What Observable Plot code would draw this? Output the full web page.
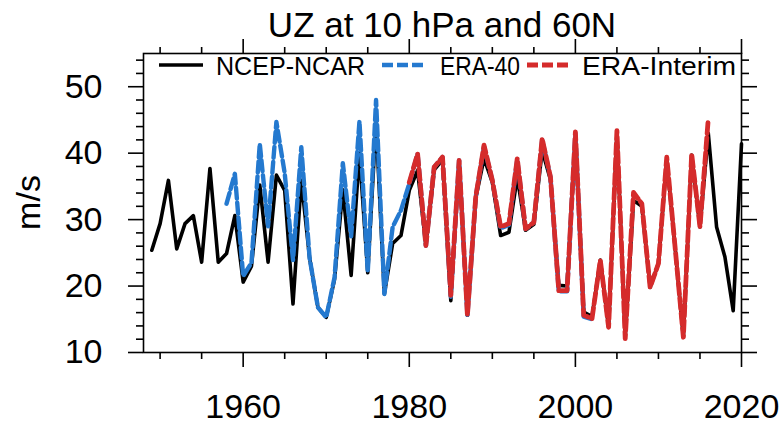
<!DOCTYPE html>
<html>
<head>
<meta charset="utf-8">
<script src="https://cdn.jsdelivr.net/npm/d3@7"></script>
<script src="https://cdn.jsdelivr.net/npm/@observablehq/plot@0.6"></script>
<style>
  html, body { margin: 0; padding: 0; background: #fff; }
  #chart { width: 784px; height: 429px; }
</style>
</head>
<body>
<div id="chart"></div>
<script>
// ---- data ----
const titleText = "UZ at 10 hPa and 60N";
const yLabel = "m/s";
const seriesNames = ["NCEP-NCAR", "ERA-40", "ERA-Interim"];
const seriesColors = ["#000000", "#2479cf", "#d52b2b"];

const ncepStart = 1949;
const ncepValues = [
  25.4, 29.4, 35.9, 25.6, 29.4, 30.6, 23.6, 37.7, 23.6, 24.9, // 1949-1958
  30.6, 20.6, 23.0, 35.2, 23.6, 36.7, 34.4, 17.3, 35.9, 24.2, // 1959-1968
  16.8, 15.3, 21.0, 34.5, 21.6, 40.0, 22.0, 44.5, 18.8, 26.4, // 1969-1978
  27.6, 34.4, 37.4, 26.1, 37.5, 39.0, 17.8, 38.6, 15.6, 33.2, // 1979-1988
  39.2, 35.6, 27.6, 28.1, 36.4, 28.4, 29.3, 40.4, 36.0, 20.1, // 1989-1998
  20.0, 42.5, 16.1, 15.4, 23.9, 13.8, 43.0, 12.3, 32.9, 32.0, // 1999-2008
  19.8, 23.4, 39.0, 25.9, 12.3, 39.7, 28.9, 43.0, 28.9, 24.4, // 2009-2018
  16.3, 41.4                                                  // 2019-2020
];

const era40Start = 1958;
const era40Values = [
  32.4, 36.9, 21.5, 23.5, 41.4, 29.0, 44.7, 37.0, 23.9, 40.9, // 1958-1967
  24.2, 16.8, 15.3, 21.3, 38.5, 27.5, 44.8, 22.1, 48.0, 18.8, // 1968-1977
  28.9, 31.4, 35.4, 39.9, 26.1, 37.9, 39.4, 18.4, 38.9, 15.6, // 1978-1987
  33.4, 41.0, 35.9, 28.7, 29.2, 39.0, 28.6, 29.6, 42.0, 36.4, // 1988-1997
  19.2, 19.2, 43.0, 15.4, 15.0                                // 1998-2002
];

const eraiStart = 1980;
const eraiValues = [
  35.6, 39.9, 26.1, 37.9, 39.4, 18.6, 38.9, 15.6, 33.4, 41.2, // 1980-1989
  35.9, 28.9, 29.4, 39.2, 28.6, 29.6, 42.2, 36.4, 19.3, 19.3, // 1990-1999
  43.2, 15.6, 15.1, 23.9, 13.8, 43.4, 12.1, 34.1, 32.4, 19.8, // 2000-2009
  23.4, 39.4, 25.9, 12.3, 39.9, 28.9, 45.2                    // 2010-2016
];

const xMajorTicks = [1960, 1980, 2000, 2020];
const xMinorTicks = [1950, 1955, 1965, 1970, 1975, 1985, 1990, 1995, 2005, 2010, 2015];
const yMajorTicks = [10, 20, 30, 40, 50];
const yMinorTicks = [12, 14, 16, 18, 22, 24, 26, 28, 32, 34, 36, 38, 42, 44, 46, 48, 52, 54];

// ---- build tables ----
const toRows = (start, vals) => vals.map((v, i) => ({year: start + i, value: v}));
const ncep = toRows(ncepStart, ncepValues);
const era40 = toRows(era40Start, era40Values);
const erai = toRows(eraiStart, eraiValues);

const FONT = "'Liberation Sans', Arial, Helvetica, sans-serif";
const blank = () => "";
const tk = {stroke: "#000", strokeWidth: 1.6, label: null};
const widths = [3.6, 4.4, 4.8];

const plot = Plot.plot({
  width: 784,
  height: 429,
  marginLeft: 143,
  marginRight: 43,
  marginTop: 53,
  marginBottom: 77,
  style: {fontFamily: FONT, background: "#fff", color: "#000", overflow: "visible"},
  x: {domain: [1948, 2020], label: null},
  y: {domain: [10, 55], label: null},
  marks: [
    Plot.line(ncep, {x: "year", y: "value", stroke: seriesColors[0], strokeWidth: widths[0], strokeLinejoin: "round"}),
    Plot.line(era40, {x: "year", y: "value", stroke: seriesColors[1], strokeWidth: widths[1], strokeDasharray: "11,4", strokeLinejoin: "round"}),
    Plot.line(erai, {x: "year", y: "value", stroke: seriesColors[2], strokeWidth: widths[2], strokeDasharray: "11,4", strokeLinejoin: "round"}),
    // bottom axis
    Plot.axisX({...tk, anchor: "bottom", ticks: xMajorTicks, tickSize: 15, tickPadding: 26, fontSize: 34, tickFormat: d => String(d)}),
    Plot.axisX({...tk, anchor: "bottom", ticks: xMinorTicks, tickSize: 7, tickFormat: blank}),
    // top axis
    Plot.axisX({...tk, anchor: "top", ticks: xMajorTicks, tickSize: 15, tickFormat: blank}),
    Plot.axisX({...tk, anchor: "top", ticks: xMinorTicks, tickSize: 7, tickFormat: blank}),
    // left axis
    Plot.axisY({...tk, anchor: "left", ticks: yMajorTicks, tickSize: 15, tickPadding: 26, fontSize: 34, tickFormat: d => String(d)}),
    Plot.axisY({...tk, anchor: "left", ticks: yMinorTicks, tickSize: 7, tickFormat: blank}),
    // right axis
    Plot.axisY({...tk, anchor: "right", ticks: yMajorTicks, tickSize: 15, tickFormat: blank}),
    Plot.axisY({...tk, anchor: "right", ticks: yMinorTicks, tickSize: 7, tickFormat: blank}),
    Plot.frame({stroke: "#000", strokeWidth: 1.6})
  ]
});

document.getElementById("chart").appendChild(plot);

// ---- title, y label and legend (layout only) ----
const svgSel = d3.select(plot);
const sx = plot.scale("x"), sy = plot.scale("y");
const frameLeft = sx.apply(1948), frameRight = sx.apply(2020);
const frameTop = sy.apply(55), frameBottom = sy.apply(10);

svgSel.append("text")
  .attr("x", (frameLeft + frameRight) / 2).attr("y", frameTop - 16.5)
  .attr("text-anchor", "middle")
  .style("font-family", FONT).style("font-size", "35px").attr("fill", "#000")
  .text(titleText);

svgSel.append("text")
  .attr("transform", `translate(${28},${(frameTop + frameBottom) / 2}) rotate(-90)`)
  .attr("text-anchor", "middle").attr("dy", "0.35em")
  .style("font-family", FONT).style("font-size", "34px").attr("fill", "#000")
  .text(yLabel);

const legendG = svgSel.append("g");
const legendItems = [
  {x0: 159, x1: 203, tx: 216, tw: 149, dash: null},
  {x0: 382, x1: 425, tx: 440, tw: 80, dash: "11,4"},
  {x0: 527, x1: 570, tx: 582, tw: 154, dash: "11,4"}
];
legendItems.forEach((it, i) => {
  const ln = legendG.append("line")
    .attr("x1", it.x0).attr("x2", it.x1).attr("y1", 65).attr("y2", 65)
    .attr("stroke", seriesColors[i]).attr("stroke-width", widths[i]);
  if (it.dash) ln.attr("stroke-dasharray", it.dash);
  legendG.append("text")
    .attr("x", it.tx).attr("y", 75)
    .attr("text-anchor", "start")
    .attr("textLength", it.tw).attr("lengthAdjust", "spacingAndGlyphs")
    .style("font-family", FONT).style("font-size", "25px").attr("fill", "#000")
    .text(seriesNames[i]);
});
</script>
</body>
</html>
